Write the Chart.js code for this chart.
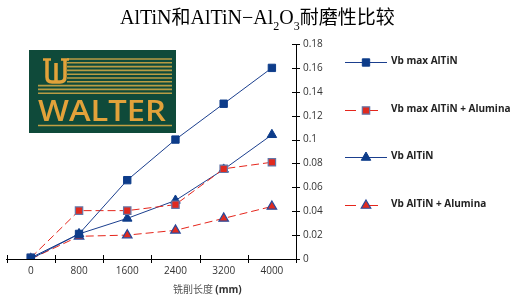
<!DOCTYPE html>
<html>
<head>
<meta charset="utf-8">
<script src="https://cdn.jsdelivr.net/npm/chart.js@4.4.1/dist/chart.umd.min.js"></script>
<style>
  html, body { margin:0; padding:0; background:#fff; }
  #wrap { position:relative; width:516px; height:299px; overflow:hidden; }
  #c { position:absolute; left:0; top:0; }
  #title { position:absolute; left:120px; top:4px; white-space:nowrap; font-size:20px; color:#000;
           font-family:"Liberation Serif","DejaVu Serif",serif; line-height:24px; }
  #title .cjk { font-family:"Noto Sans CJK SC",sans-serif; font-size:19px; }
  #title sub { font-size:12px; vertical-align:-6px; line-height:0; }
  #logo { position:absolute; left:29px; top:50px; }
  #xtitle { position:absolute; left:173px; top:282px; white-space:nowrap; font-size:10px; color:#555;
            font-family:"Noto Sans CJK SC",sans-serif; line-height:14px; }
  #xtitle b { color:#333; font-family:"Open Sans",sans-serif; font-weight:700; }
</style>
</head>
<body>
<div id="wrap">
  <canvas id="c" width="516" height="299"></canvas>
  <div id="title">AlTiN<span class="cjk">和</span>AlTiN−Al<sub>2</sub>O<sub>3</sub><span class="cjk">耐磨性比较</span></div>
  <canvas id="logo" width="147" height="83"></canvas>
  <div id="xtitle">铣削长度 <b>(mm)</b></div>
</div>
<script>
// ---- data ----
const categories = ['0', '800', '1600', '2400', '3200', '4000'];
const seriesNames = ['Vb max AlTiN', 'Vb max AlTiN + Alumina', 'Vb AlTiN', 'Vb AlTiN + Alumina'];
const vbMaxAlTiN = [0.001, 0.021, 0.066, 0.100, 0.130, 0.160];
const vbMaxAlTiNAlumina = [0.001, 0.0405, 0.0405, 0.0455, 0.0755, 0.081];
const vbAlTiN = [0.000, 0.021, 0.034, 0.049, 0.075, 0.104];
const vbAlTiNAlumina = [0.000, 0.019, 0.020, 0.024, 0.034, 0.044];
const yTickLabels = ['0', '0.02', '0.04', '0.06', '0.08', '0.1', '0.12', '0.14', '0.16', '0.18'];

const BLUE = '#1b3f8e';
const RED = '#e5261c';

const datasets = [
  { label: seriesNames[0], data: vbMaxAlTiN, borderColor: BLUE, borderWidth: 1, borderDash: [],
    pointStyle: 'rect', pointRadius: 5.2, pointBackgroundColor: '#0d3c8a', pointBorderColor: '#0d3c8a', pointBorderWidth: 1 },
  { label: seriesNames[1], data: vbMaxAlTiNAlumina, borderColor: RED, borderWidth: 1, borderDash: [8, 4],
    pointStyle: 'rect', pointRadius: 5.2, pointBackgroundColor: '#e02a1f', pointBorderColor: '#6476a6', pointBorderWidth: 1.2 },
  { label: seriesNames[2], data: vbAlTiN, borderColor: BLUE, borderWidth: 1, borderDash: [],
    pointStyle: 'triangle', pointRadius: 5.5, pointBackgroundColor: '#0d3c8a', pointBorderColor: '#0d3c8a', pointBorderWidth: 1 },
  { label: seriesNames[3], data: vbAlTiNAlumina, borderColor: RED, borderWidth: 1, borderDash: [8, 4],
    pointStyle: 'triangle', pointRadius: 5.5, pointBackgroundColor: '#e02a1f', pointBorderColor: '#2a4a9a', pointBorderWidth: 1.2 }
].map(d => Object.assign(d, { fill: false, tension: 0 }));

function drawMarker(ctx, style, x, y, r, fill, stroke, bw) {
  ctx.save();
  ctx.setLineDash([]);
  ctx.fillStyle = fill; ctx.strokeStyle = stroke; ctx.lineWidth = bw;
  ctx.beginPath();
  if (style === 'rect') {
    const s = Math.SQRT1_2 * r;
    ctx.rect(x - s, y - s, 2 * s, 2 * s);
  } else {
    for (let k = 0; k < 3; k++) {
      const a = k * 2 * Math.PI / 3;
      const px = x + Math.sin(a) * r, py = y - Math.cos(a) * r;
      k === 0 ? ctx.moveTo(px, py) : ctx.lineTo(px, py);
    }
    ctx.closePath();
  }
  ctx.fill(); ctx.stroke();
  ctx.restore();
}

const tickPlugin = {
  id: 'crossTicks',
  afterDraw(chart) {
    const ctx = chart.ctx, xs = chart.scales.x, ys = chart.scales.y;
    ctx.save();
    ctx.strokeStyle = '#000'; ctx.lineWidth = 1;
    ctx.beginPath();
    const n = chart.data.labels.length;
    for (let i = 0; i <= n; i++) {
      const px = Math.round(xs.getPixelForValue(i - 0.5)) + 0.5;
      ctx.moveTo(px, ys.bottom - 4); ctx.lineTo(px, ys.bottom + 4);
    }
    ys.ticks.forEach(t => {
      const py = Math.round(ys.getPixelForValue(t.value)) + 0.5;
      ctx.moveTo(xs.right - 4, py); ctx.lineTo(xs.right + 4, py);
    });
    ctx.stroke();
    ctx.restore();
  }
};

const legendPlugin = {
  id: 'sideLegend',
  afterDraw(chart) {
    const ctx = chart.ctx;
    const x0 = 345, x1 = 387, xm = 366, xt = 391;
    const yStart = 62, yStep = 47.6;
    chart.data.datasets.forEach((d, i) => {
      const y = Math.round(yStart + i * yStep) + 0.5;
      ctx.save();
      ctx.strokeStyle = d.borderColor; ctx.lineWidth = 1;
      ctx.setLineDash(d.borderDash.length ? [11, 11] : []);
      ctx.beginPath(); ctx.moveTo(x0, y); ctx.lineTo(x1, y); ctx.stroke();
      ctx.restore();
      drawMarker(ctx, d.pointStyle, xm, y, d.pointRadius, d.pointBackgroundColor, d.pointBorderColor, d.pointBorderWidth);
      ctx.save();
      ctx.fillStyle = '#222';
      ctx.font = 'bold 10px "Open Sans", sans-serif';
      ctx.textBaseline = 'middle';
      ctx.fillText(d.label, xt, y - 1);
      ctx.restore();
    });
  }
};

const target = { left: 3, right: 296, top: 44, bottom: 259 };

const chart = new Chart(document.getElementById('c'), {
  type: 'line',
  data: { labels: categories, datasets },
  options: {
    responsive: false,
    animation: false,
    events: [],
    layout: { padding: { left: 3, top: 44, right: 180, bottom: 18 } },
    plugins: { legend: { display: false }, title: { display: false }, tooltip: { enabled: false } },
    scales: {
      x: {
        type: 'category', offset: true,
        grid: { display: false, offset: true, drawTicks: false },
        border: { display: true, color: '#000', width: 1 },
        ticks: { padding: 6, color: '#333', font: { family: '"Open Sans", sans-serif', size: 10 }, maxRotation: 0 },
        afterFit(s) { s.height = 22; }
      },
      y: {
        position: 'right', min: 0, max: 0.18,
        grid: { display: false, drawTicks: false },
        border: { display: true, color: '#000', width: 1 },
        ticks: { stepSize: 0.02, padding: 7, color: '#333', font: { family: '"Open Sans", sans-serif', size: 10 },
                 callback: (v, i) => yTickLabels[i] },
        afterFit(s) { s.width = 40; }
      }
    }
  },
  plugins: [tickPlugin, legendPlugin]
});

// nudge layout padding so the plot area lands where the reference has it
for (let it = 0; it < 3; it++) {
  const a = chart.chartArea, p = chart.options.layout.padding;
  const dl = a.left - target.left, dr = a.right - target.right, dt = a.top - target.top, db = a.bottom - target.bottom;
  if (Math.abs(dl) < 0.5 && Math.abs(dr) < 0.5 && Math.abs(dt) < 0.5 && Math.abs(db) < 0.5) break;
  p.left = Math.max(0, p.left - dl); p.right = p.right + dr; p.top = Math.max(0, p.top - dt); p.bottom = p.bottom + db;
  chart.update('none');
}

// ---- logo ----
(function () {
  const c = document.getElementById('logo'), g = c.getContext('2d');
  g.fillStyle = '#0f4a3a'; g.fillRect(0, 0, 147, 83);
  const Y = '#e2a23a';
  g.strokeStyle = 'rgba(214,170,70,0.85)'; g.lineWidth = 1.6;
  for (let k = 0; k < 10; k++) {
    const y = 9 + k * 3.8;
    g.beginPath();
    g.moveTo(k < 7 ? 38 : 9, y); g.lineTo(143, y); g.stroke();
  }
  g.strokeStyle = Y; g.lineWidth = 3.5; g.lineCap = 'butt';
  g.beginPath();
  g.moveTo(18, 9); g.lineTo(18, 27); g.quadraticCurveTo(18, 32, 23, 32);
  g.lineTo(31, 32); g.quadraticCurveTo(36, 32, 36, 27); g.lineTo(36, 9);
  g.moveTo(27, 13); g.lineTo(27, 32);
  g.stroke();
  g.lineWidth = 2.5;
  g.beginPath(); g.moveTo(14, 9.5); g.lineTo(22, 9.5); g.moveTo(32, 9.5); g.lineTo(40, 9.5); g.stroke();
  g.fillStyle = Y;
  g.font = '600 28px "Open Sans", sans-serif';
  g.textBaseline = 'alphabetic';
  g.save();
  g.translate(9, 71);
  const w = g.measureText('WALTER').width;
  g.scale(128 / w, 1);
  g.fillText('WALTER', 0, 0);
  g.restore();
  g.strokeStyle = 'rgba(214,170,70,0.9)'; g.lineWidth = 1.5;
  g.beginPath(); g.moveTo(9, 75.5); g.lineTo(143, 75.5); g.stroke();
})();
</script>
</body>
</html>
